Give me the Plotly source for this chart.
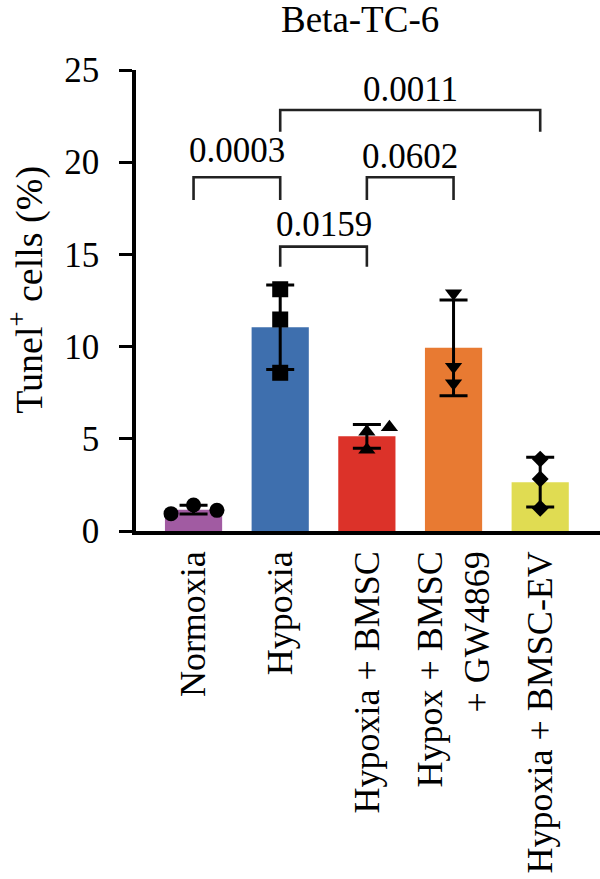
import numpy as np
import plotly.graph_objects as go

# ---------------- data ----------------
groups = ["Normoxia", "Hypoxia", "Hypoxia + BMSC", "Hypox + BMSC<br>+ GW4869", "Hypoxia + BMSC-EV"]
pts_normoxia = [0.94, 1.41, 1.12]
pts_hypoxia = [13.11, 11.47, 8.58]
pts_hyp_bmsc = [5.38, 4.40, 5.62]
pts_hyp_bmsc_gw = [12.89, 8.91, 8.01]
pts_hyp_bmsc_ev = [3.90, 2.82, 1.23]
y_ticks = [0, 5, 10, 15, 20, 25]
title_text = "Beta-TC-6"
y_title = "Tunel<sup>+</sup> cells (%)"

# significance comparisons: (group a, group b, p-label, bracket height, leg bottom, label y)
comp_a = [0, 1, 2, 1]
comp_b = [1, 2, 3, 4]
comp_p = ["0.0003", "0.0159", "0.0602", "0.0011"]
comp_h = [19.18, 15.42, 19.18, 22.83]
comp_leg = [17.95, 14.33, 17.95, 21.65]
comp_label_y = [20.65, 16.62, 20.3, 23.95]

# ---------------- styles ----------------
bar_colors = ["#A15BA2", "#3E6FAE", "#DC3229", "#E87A32", "#E0DC52"]
symbols = ["circle", "square", "triangle-up", "triangle-down", "diamond"]
sym_sizes = [15, 16, 15, 15, 13]
jitter = [[-0.26, 0.0, 0.27], [0, 0, 0], [0, 0, 0.26], [0, 0, 0], [0, 0, 0]]
FONT = "Liberation Serif"
FS_NUM = 35
FS_XLAB = 36
FS_TITLE = 37
FS_YTITLE = 38

all_pts = [pts_normoxia, pts_hypoxia, pts_hyp_bmsc, pts_hyp_bmsc_gw, pts_hyp_bmsc_ev]
means = [float(np.mean(p)) for p in all_pts]
sds = [float(np.std(p, ddof=1)) for p in all_pts]
xs = list(range(len(groups)))

fig = go.Figure()
fig.add_trace(go.Bar(
    x=xs, y=means, width=0.66,
    marker=dict(color=bar_colors, line=dict(width=0)),
    error_y=dict(type="data", array=sds, visible=True, color="black", thickness=3, width=14),
    hoverinfo="skip",
))

for i, pts in enumerate(all_pts):
    fig.add_trace(go.Scatter(
        x=[i + j for j in jitter[i]], y=pts, mode="markers",
        marker=dict(symbol=symbols[i], size=sym_sizes[i], color="black", line=dict(width=0)),
        hoverinfo="skip", cliponaxis=False,
    ))

for a, b, p, h, leg, ly in zip(comp_a, comp_b, comp_p, comp_h, comp_leg, comp_label_y):
    fig.add_trace(go.Scatter(
        x=[a, a, b, b], y=[leg, h, h, leg], mode="lines",
        line=dict(color="#222222", width=2.6), hoverinfo="skip", cliponaxis=False,
    ))
    fig.add_annotation(x=(a + b) / 2, y=ly, xref="x", yref="y", text=p, showarrow=False,
                       font=dict(family=FONT, size=FS_NUM, color="black"), yanchor="middle")

fig.add_annotation(x=0.483, y=1.1518, xref="paper", yref="paper", text=title_text, showarrow=False,
                   font=dict(family=FONT, size=FS_TITLE, color="black"), yanchor="top", yshift=3)
fig.add_annotation(x=-0.2931, y=0.522, xref="paper", yref="paper", text=y_title, showarrow=False,
                   textangle=-90, font=dict(family=FONT, size=FS_YTITLE, color="black"),
                   xanchor="left", yanchor="middle", xshift=0)

fig.update_layout(
    width=600, height=879,
    margin=dict(l=136, r=0, t=70, b=348, pad=0, autoexpand=False),
    plot_bgcolor="white", paper_bgcolor="white",
    showlegend=False,
    xaxis=dict(range=[-0.664, 4.69], tickvals=xs, ticktext=groups, tickangle=-90,
               tickfont=dict(family=FONT, size=FS_XLAB, color="black"),
               showline=True, linewidth=3.5, linecolor="black", ticks="",
               showgrid=False, zeroline=False, ticklabelstandoff=2, automargin=False),
    yaxis=dict(range=[0, 25], tickvals=y_ticks, ticks="outside", ticklen=13, tickwidth=3,
               tickcolor="black", showline=True, linewidth=3.5, linecolor="black",
               tickfont=dict(family=FONT, size=FS_NUM, color="black"),
               showgrid=False, zeroline=False, ticklabelstandoff=13, automargin=False),
)

fig.write_html("out.html")
